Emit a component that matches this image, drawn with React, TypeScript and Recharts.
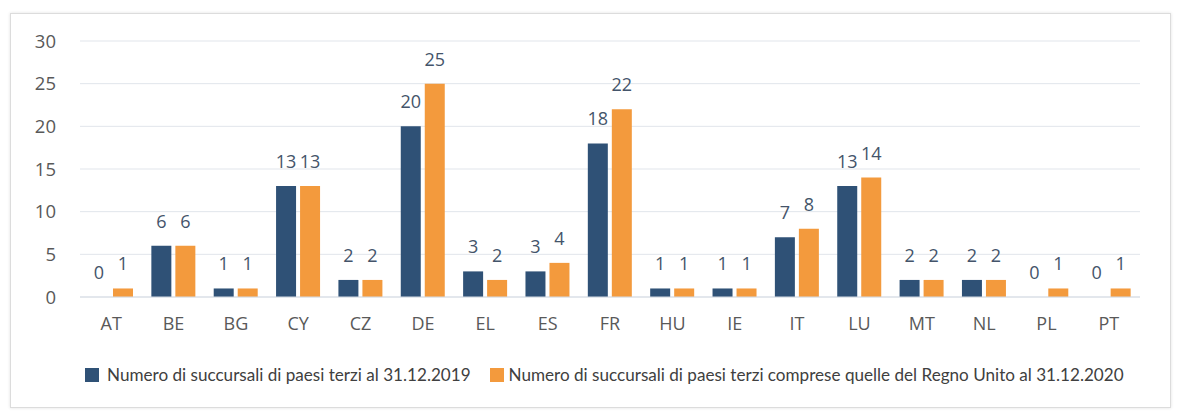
import { BarChart, Bar, XAxis, YAxis, CartesianGrid, LabelList, Legend } from 'recharts';

const countries = ['AT', 'BE', 'BG', 'CY', 'CZ', 'DE', 'EL', 'ES', 'FR', 'HU', 'IE', 'IT', 'LU', 'MT', 'NL', 'PL', 'PT'];
const branches2019 = [0, 6, 1, 13, 2, 20, 3, 3, 18, 1, 1, 7, 13, 2, 2, 0, 0];
const branches2020 = [1, 6, 1, 13, 2, 25, 2, 4, 22, 1, 1, 8, 14, 2, 2, 1, 1];
const yTicks = [0, 5, 10, 15, 20, 25, 30];

const label2019 = 'Numero di succursali di paesi terzi al 31.12.2019';
const label2020 = 'Numero di succursali di paesi terzi comprese quelle del Regno Unito al 31.12.2020';

const BLUE = '#2f5176';
const ORANGE = '#f39a3d';
const FONT = '"Open Sans", sans-serif';

const data = countries.map((c, i) => ({ country: c, y2019: branches2019[i], y2020: branches2020[i] }));

function LegendContent() {
  const items = [
    { color: BLUE, text: label2019, gap: 8 },
    { color: ORANGE, text: label2020, gap: 5 },
  ];
  return (
    <div style={{ display: 'flex', paddingLeft: 85, fontFamily: 'Lato, sans-serif', fontSize: 17.1, color: '#404040' }}>
      {items.map((it) => (
        <div key={it.text} style={{ display: 'flex', alignItems: 'center', marginRight: 19 }}>
          <span style={{ width: 14, height: 14, background: it.color, display: 'inline-block', marginRight: it.gap }} />
          <span>{it.text}</span>
        </div>
      ))}
    </div>
  );
}

export default function App() {
  return (
    <div style={{ position: 'absolute', left: 0, top: 0, width: 1177, height: 414, background: '#fff' }}>
      <div
        style={{
          position: 'absolute', left: 10, top: 13, width: 1159, height: 393,
          border: '1px solid #dcdcdc', boxShadow: '0 0 3px rgba(0,0,0,0.12)',
        }}
      />
      <div style={{ position: 'absolute', left: 0, top: 0 }}>
        <BarChart
          width={1177}
          height={414}
          data={data}
          margin={{ top: 41, right: 37, left: 0, bottom: 56 }}
          barSize={20}
          barGap={4}
        >
          <CartesianGrid vertical={false} stroke="#e1e5eb" />
          <XAxis
            dataKey="country"
            axisLine={{ stroke: '#d6dce4' }}
            tickLine={false}
            height={40}
            tick={{ fill: '#595959', fontSize: 18, fontFamily: FONT }}
            tickMargin={14}
            interval={0}
          />
          <YAxis
            domain={[0, 30]}
            ticks={yTicks}
            width={80}
            axisLine={false}
            tickLine={false}
            tickMargin={18}
            tick={{ fill: '#595959', fontSize: 18.5, fontFamily: FONT }}
          />
          <Legend
            verticalAlign="bottom"
            content={<LegendContent />}
            wrapperStyle={{ position: 'absolute', top: 364, left: 0, width: 1177 }}
          />
          <Bar dataKey="y2019" name={label2019} fill={BLUE} minPointSize={0.01} isAnimationActive={false}>
            <LabelList dataKey="y2019" position="top" offset={18} fill="#44546a" fontSize={18} fontFamily={FONT} />
          </Bar>
          <Bar dataKey="y2020" name={label2020} fill={ORANGE} minPointSize={0.01} isAnimationActive={false}>
            <LabelList dataKey="y2020" position="top" offset={18} fill="#44546a" fontSize={18} fontFamily={FONT} />
          </Bar>
        </BarChart>
      </div>
    </div>
  );
}
